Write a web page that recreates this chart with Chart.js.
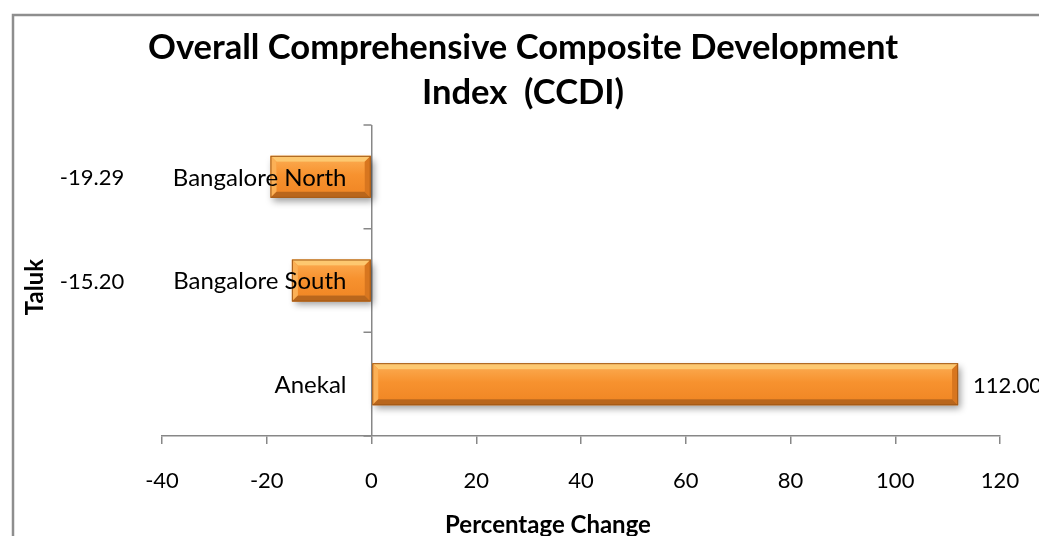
<!DOCTYPE html>
<html>
<head>
<meta charset="utf-8">
<script src="https://cdn.jsdelivr.net/npm/chart.js@4"></script>
<style>
  html, body { margin: 0; padding: 0; background: #fff; overflow: hidden; }
  #wrap { width: 1039px; height: 536px; }
</style>
</head>
<body>
<div id="wrap"><canvas id="c" width="1039" height="536"></canvas></div>
<script>
// Taluks, top to bottom, and their CCDI percentage change
const taluks = ['Bangalore North', 'Bangalore South', 'Anekal'];
const ccdiChange = [-19.29, -15.20, 112.00];
const xTickValues = [-40, -20, 0, 20, 40, 60, 80, 100, 120];
const titleLines = ['Overall Comprehensive Composite Development', 'Index  (CCDI)'];
const xAxisTitle = 'Percentage Change';
const yAxisTitle = 'Taluk';

const FONT = 'Lato, "Open Sans", sans-serif';
const AXIS_GREY = '#878787';

// Outer frame, titles and the y axis drawn around the plot
const decorPlugin = {
  id: 'decor',
  beforeDraw(chart) {
    const ctx = chart.ctx;
    ctx.save();
    ctx.strokeStyle = '#8e8e8e';
    ctx.lineWidth = 2.5;
    ctx.beginPath();
    ctx.moveTo(13, 540);
    ctx.lineTo(13, 15);
    ctx.lineTo(1045, 15);
    ctx.stroke();
    ctx.restore();
  },
  afterDraw(chart) {
    const ctx = chart.ctx;
    const x = chart.scales.x, y = chart.scales.y;
    const area = chart.chartArea;
    const x0 = x.getPixelForValue(0);
    ctx.save();
    // y axis tick marks on category boundaries, left of the zero line
    ctx.strokeStyle = AXIS_GREY;
    ctx.lineWidth = 1.5;
    const n = taluks.length;
    const bounds = [area.top];
    for (let i = 0; i < n - 1; i++) {
      bounds.push((y.getPixelForValue(i) + y.getPixelForValue(i + 1)) / 2);
    }
    bounds.push(area.bottom);
    ctx.beginPath();
    bounds.forEach(b => { ctx.moveTo(x0 - 8, b); ctx.lineTo(x0, b); });
    ctx.stroke();

    // category labels
    ctx.fillStyle = '#000';
    ctx.font = '24px ' + FONT;
    ctx.textAlign = 'right';
    ctx.textBaseline = 'middle';
    taluks.forEach((t, i) => ctx.fillText(t, x0 - 25, y.getPixelForValue(i) + 1));

    // value labels
    ctx.font = '22px ' + FONT;
    const meta = chart.getDatasetMeta(0);
    meta.data.forEach((bar, i) => {
      const v = ccdiChange[i];
      const txt = v.toFixed(2);
      if (v >= 0) {
        ctx.textAlign = 'left';
        ctx.fillText(txt, bar.x + 15, bar.y + 2);
      } else {
        ctx.textAlign = 'center';
        ctx.fillText(txt, area.left - 70, bar.y + 1);
      }
    });

    // chart title
    ctx.font = 'bold 34.6px ' + FONT;
    ctx.textAlign = 'center';
    titleLines.forEach((l, i) => ctx.fillText(l, 523, 48 + i * 45));

    // axis titles
    ctx.font = 'bold 24px ' + FONT;
    ctx.fillText(xAxisTitle, 548, 525);
    ctx.translate(35, 287);
    ctx.rotate(-Math.PI / 2);
    ctx.fillText(yAxisTitle, 0, 0);
    ctx.restore();
  }
};

// Soft drop shadow under the bars, then a bevelled face on top
const bevelPlugin = {
  id: 'bevel',
  beforeDatasetsDraw(chart) {
    const ctx = chart.ctx;
    ctx.save();
    ctx.shadowColor = 'rgba(0,0,0,0.38)';
    ctx.shadowBlur = 7;
    ctx.shadowOffsetX = 3;
    ctx.shadowOffsetY = 4;
  },
  afterDatasetsDraw(chart) {
    const ctx = chart.ctx;
    ctx.restore();
    const meta = chart.getDatasetMeta(0);
    meta.data.forEach(bar => {
      const p = bar.getProps(['x', 'y', 'base', 'height'], true);
      const l = Math.min(p.x, p.base), r = Math.max(p.x, p.base);
      const t = p.y - p.height / 2, b = p.y + p.height / 2;
      const e = 6;
      ctx.save();
      // face gradient
      const g = ctx.createLinearGradient(0, t, 0, b);
      g.addColorStop(0, '#fcae55');
      g.addColorStop(0.45, '#f7922f');
      g.addColorStop(1, '#ef8422');
      ctx.fillStyle = g;
      ctx.fillRect(l + e, t + e, r - l - 2 * e, b - t - 2 * e);
      // top bevel
      ctx.fillStyle = '#fdc870';
      ctx.beginPath();
      ctx.moveTo(l, t); ctx.lineTo(r, t); ctx.lineTo(r - e, t + e); ctx.lineTo(l + e, t + e); ctx.closePath();
      ctx.fill();
      // left bevel
      ctx.fillStyle = '#fbb056';
      ctx.beginPath();
      ctx.moveTo(l, t); ctx.lineTo(l + e, t + e); ctx.lineTo(l + e, b - e); ctx.lineTo(l, b); ctx.closePath();
      ctx.fill();
      // right bevel
      ctx.fillStyle = '#d8761f';
      ctx.beginPath();
      ctx.moveTo(r, t); ctx.lineTo(r, b); ctx.lineTo(r - e, b - e); ctx.lineTo(r - e, t + e); ctx.closePath();
      ctx.fill();
      // bottom bevel
      ctx.fillStyle = '#b9661c';
      ctx.beginPath();
      ctx.moveTo(l, b); ctx.lineTo(l + e, b - e); ctx.lineTo(r - e, b - e); ctx.lineTo(r, b); ctx.closePath();
      ctx.fill();
      // outline
      ctx.strokeStyle = '#a35a17';
      ctx.lineWidth = 1;
      ctx.strokeRect(l + 0.5, t + 0.5, r - l - 1, b - t - 1);
      ctx.restore();
    });
  }
};

new Chart(document.getElementById('c'), {
  type: 'bar',
  data: {
    labels: taluks,
    datasets: [{
      data: ccdiChange,
      backgroundColor: '#f7922f',
      borderWidth: 0,
      barPercentage: 0.405,
      categoryPercentage: 1
    }]
  },
  options: {
    indexAxis: 'y',
    responsive: false,
    animation: false,
    events: [],
    layout: { padding: { left: 162, right: 39, top: 125, bottom: 0 } },
    plugins: { legend: { display: false }, tooltip: { enabled: false }, title: { display: false } },
    scales: {
      x: {
        min: -40,
        max: 120,
        afterBuildTicks: s => { s.ticks = xTickValues.map(v => ({ value: v })); },
        afterFit: s => { s.height = 100; s.paddingLeft = 0; s.paddingRight = 0; },
        border: { display: true, color: AXIS_GREY, width: 1.5 },
        grid: {
          drawOnChartArea: true,
          color: c => (c.tick && c.tick.value === 0 ? AXIS_GREY : 'rgba(0,0,0,0)'),
          lineWidth: 1.5,
          tickColor: AXIS_GREY,
          tickLength: 8
        },
        ticks: {
          color: '#000',
          font: { family: FONT, size: 22 },
          padding: 24,
          maxRotation: 0,
          autoSkip: false
        }
      },
      y: {
        display: false,
        grid: { display: false }
      }
    }
  },
  plugins: [bevelPlugin, decorPlugin]
});
</script>
</body>
</html>
